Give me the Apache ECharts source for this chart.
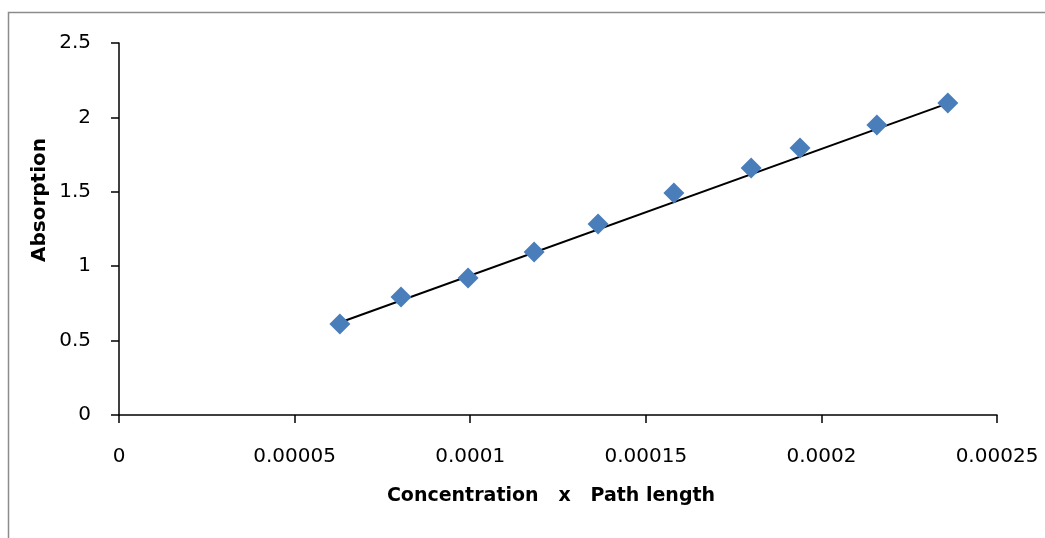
<!DOCTYPE html>
<html>
<head>
<meta charset="utf-8">
<script src="https://cdn.jsdelivr.net/npm/echarts@6/dist/echarts.min.js"></script>
<style>
html,body{margin:0;padding:0;background:#fff;}
#chart{width:1045px;height:538px;}
</style>
</head>
<body>
<div id="chart"></div>
<script>
var xValues = [0.0000629, 0.0000803, 0.0000994, 0.0001182, 0.0001364, 0.0001580, 0.0001800, 0.0001939, 0.0002158, 0.0002360];
var yValues = [0.612, 0.793, 0.921, 1.095, 1.284, 1.492, 1.660, 1.794, 1.949, 2.097];
var trendX = [0.0000629, 0.0002360];
var trendY = [0.622, 2.094];
var xTickLabels = ['0', '0.00005', '0.0001', '0.00015', '0.0002', '0.00025'];
var yTickLabels = ['0', '0.5', '1', '1.5', '2', '2.5'];
var xTitle = 'Concentration   x   Path length';
var yTitle = 'Absorption';

var points = xValues.map(function (x, i) { return [x, yValues[i]]; });
var trend = trendX.map(function (x, i) { return [x, trendY[i]]; });

var chart = echarts.init(document.getElementById('chart'));
var font = 'DejaVu Sans';
chart.setOption({
  animation: false,
  backgroundColor: '#fff',
  grid: { left: 119, right: 48, top: 43, bottom: 123 },
  xAxis: {
    type: 'value', min: 0, max: 0.00025, interval: 0.00005,
    splitLine: { show: false },
    axisLine: { show: true, onZero: false, lineStyle: { color: '#000', width: 1.5 } },
    axisTick: { show: true, inside: false, length: 8, lineStyle: { color: '#000', width: 1.5 } },
    axisLabel: {
      color: '#000', fontFamily: font, fontSize: 20, margin: 32,
      formatter: function (v, idx) { return xTickLabels[Math.round(v / 0.00005)]; }
    }
  },
  yAxis: {
    type: 'value', min: 0, max: 2.5, interval: 0.5,
    splitLine: { show: false },
    axisLine: { show: true, onZero: false, lineStyle: { color: '#000', width: 1.5 } },
    axisTick: { show: true, inside: false, length: 8, lineStyle: { color: '#000', width: 1.5 } },
    axisLabel: {
      color: '#000', fontFamily: font, fontSize: 20, margin: 28, verticalAlign: 'middle',
      padding: [10, 0, 0, 0],
      formatter: function (v) { return yTickLabels[Math.round(v / 0.5)]; }
    }
  },
  graphic: [
    { type: 'rect', shape: { x: 8.5, y: 12.5, width: 1200, height: 700 },
      style: { fill: 'none', stroke: '#8c8c8c', lineWidth: 1.5 }, silent: true, z: -10 },
    { type: 'text', x: 551, y: 496,
      style: { text: xTitle, font: 'bold 19px "DejaVu Sans"', fill: '#000', textAlign: 'center', textVerticalAlign: 'middle' } },
    { type: 'text', x: 40, y: 200, rotation: Math.PI / 2,
      style: { text: yTitle, font: 'bold 20px "DejaVu Sans"', fill: '#000', textAlign: 'center', textVerticalAlign: 'middle' } }
  ],
  series: [
    { type: 'line', data: trend, showSymbol: false, symbol: 'none',
      lineStyle: { color: '#000', width: 2 }, z: 2, silent: true },
    { type: 'scatter', data: points, symbol: 'diamond', symbolSize: 21,
      itemStyle: { color: '#4a7ebb', opacity: 1 }, z: 3 }
  ]
});
</script>
</body>
</html>
